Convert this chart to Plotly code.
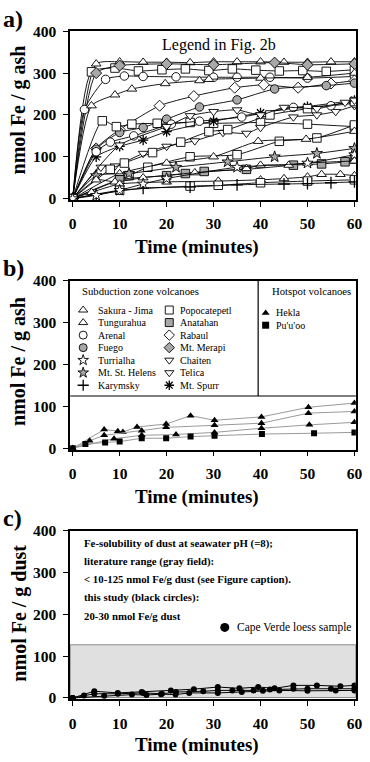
import plotly.graph_objects as go

W, H = 370, 762

# ---------------- data: panel a (minutes, nmol Fe / g ash) ----------------
sakura1_t = [0, 5, 10, 15, 20, 25, 30, 35, 40, 45, 50, 55, 60]
sakura1_v = [0, 322, 327, 326, 326, 325, 327, 327, 327, 326, 326, 327, 327]
popo1_t = [0, 4, 9, 14, 19, 24, 29, 34, 39, 44, 49, 54, 60]
popo1_v = [0, 303, 312, 305, 308, 310, 306, 310, 307, 305, 306, 304, 308]
merapi_t = [0, 5, 10, 20, 30, 43, 50, 60]
merapi_v = [0, 300, 318, 322, 320, 325, 320, 322]
arenal1_t = [0, 2.5, 7, 11, 15, 22, 30, 35, 42, 50, 60]
arenal1_v = [0, 213, 285, 293, 292, 291, 290, 290, 290, 288, 292]
tungu1_t = [0, 4, 9, 12.6, 19.7, 27, 29, 40, 50, 60]
tungu1_v = [0, 222, 248, 262, 275, 282, 285, 288, 290, 300]
rabaul_t = [0, 5, 10, 18.5, 25.8, 34.5, 40.7, 48, 55, 60]
rabaul_v = [0, 120, 165, 222, 245, 265, 272, 265, 275, 282]
fuego_t = [0, 5, 10, 15, 20, 27, 35, 43, 54, 60]
fuego_v = [0, 118, 158, 170, 190, 219, 236, 262, 270, 276]
popo2_t = [0, 6.3, 9.3, 12.6, 18, 25, 30, 40, 50, 60]
popo2_v = [0, 186, 172, 178, 180, 182, 180, 182, 178, 172]
chaiten_t = [0, 6, 9, 15, 20, 26, 32, 37, 40, 47, 52, 56, 60]
chaiten_v = [0, 75, 78, 108, 125, 138, 158, 156, 170, 195, 200, 208, 222]
arenal2_t = [0, 5, 8, 13, 21, 27, 36, 47, 55, 60]
arenal2_v = [0, 112, 135, 150, 178, 185, 195, 218, 222, 228]
popo3_t = [0, 8, 11, 17, 23, 29, 33, 42, 50, 60]
popo3_v = [0, 70, 85, 110, 135, 160, 165, 200, 215, 232]
telica_t = [0, 10, 20, 25, 30, 35, 40, 45, 52, 58, 60]
telica_v = [0, 128, 172, 198, 208, 212, 200, 218, 215, 230, 235]
popo4_t = [0, 12, 16, 25, 35, 44, 52, 60]
popo4_v = [0, 55, 75, 100, 105, 137, 145, 176]
tungu2_t = [0, 10, 20, 30, 39.5, 49.7, 60]
tungu2_v = [0, 60, 85, 100, 137, 142, 161]
helens_t = [0, 5, 12, 22, 33, 43, 52, 60]
helens_v = [0, 55, 60, 75, 88, 100, 108, 120]
anatahan_t = [0, 10, 20, 24, 28, 37, 47, 53, 58, 60]
anatahan_v = [0, 45, 55, 60, 65, 70, 80, 83, 88, 95]
sakura2_t = [0, 5, 9, 15, 26, 37, 40, 46, 50, 60]
sakura2_v = [0, 45, 40, 50, 62, 72, 80, 80, 85, 90]
tungu3_t = [0, 4, 10, 20, 31, 40, 45, 50, 53, 57, 60]
tungu3_v = [0, 15, 35, 40, 42, 45, 48, 52, 58, 58, 55]
popo5_t = [0, 10, 25, 31, 40, 50, 60]
popo5_v = [0, 20, 30, 32, 38, 42, 45]
karymsky_t = [0, 5, 15, 25, 35, 45, 50, 55, 60]
karymsky_v = [0, 10, 25, 28, 33, 35, 36, 38, 40]
turrialba_t = [0, 5, 10, 15, 20, 35, 50, 60]
turrialba_v = [0, 8, 20, 35, 48, 75, 85, 105]
spurr_t = [0, 5, 10, 15, 20, 30, 40, 50, 60]
spurr_v = [0, 100, 125, 140, 160, 185, 205, 220, 235]

# ---------------- data: panel b (hotspot volcanoes) ----------------
hekla1_t = [0, 6.7, 9.6, 10.7, 13.7, 19.9, 25.1, 30.2, 40.2, 50.2, 60]
hekla1_v = [0, 45, 41, 39, 51, 58, 78, 67, 75, 98, 108]
hekla2_t = [0, 3.6, 6.7, 14.7, 19.9, 30.2, 40.2, 50.2, 60]
hekla2_v = [0, 18, 31, 42, 50, 55, 60, 84, 88]
hekla3_t = [0, 8.8, 14.7, 22, 30.2, 40.2, 50.4, 60]
hekla3_v = [0, 23, 31, 33, 38, 48, 56, 62]
puuoo_t = [0, 2.7, 6.9, 10, 14.7, 19.9, 25.1, 30.2, 40.3, 51.4, 60]
puuoo_v = [0, 10, 14, 16, 24, 24, 28, 30, 34, 36, 38]

# ---------------- data: panel c (Cape Verde loess) ----------------
cv1_t = [0, 4.6, 9.6, 14.7, 20.9, 25.8, 30.9, 35.5, 39.5, 43, 47, 52, 57, 60]
cv1_v = [0, 16, 12, 14, 18, 21, 26, 23, 26, 23, 30, 30, 28, 30]
cv2_t = [0, 2.4, 4.6, 9.6, 15, 19, 22, 27.8, 30.9, 34, 38.5, 42, 47, 50, 55, 60]
cv2_v = [0, 6, 10, 10, 12, 10, 14, 16, 18, 18, 18, 20, 22, 22, 22, 22]
cv3_t = [0, 6.7, 12.6, 15.7, 18.8, 21.9, 24.8, 30.9, 36, 40.5, 44, 50, 56, 60]
cv3_v = [0, 5, 8, 7, 9, 8, 12, 12, 14, 17, 18, 17, 18, 18]

# legend labels
sub_col1 = ["Sakura - Jima", "Tungurahua", "Arenal", "Fuego", "Turrialha", "Mt. St. Helens", "Karymsky"]
sub_col2 = ["Popocatepetl", "Anatahan", "Rabaul", "Mt. Merapi", "Chaiten", "Telica", "Mt. Spurr"]
hot_names = ["Hekla", "Pu'u'oo"]

x_ticks = [0, 10, 20, 30, 40, 50, 60]
y_ticks = [0, 100, 200, 300, 400]

# ---------------- styles ----------------
GRAY = "#a8a8a8"
STYLE = {
    "Sakura - Jima": ("triangle-up", "white"),
    "Tungurahua": ("triangle-up", "white"),
    "Arenal": ("circle", "white"),
    "Fuego": ("circle", GRAY),
    "Turrialha": ("star", "white"),
    "Mt. St. Helens": ("star", GRAY),
    "Karymsky": ("cross-thin-open", "black"),
    "Popocatepetl": ("square", "white"),
    "Anatahan": ("square", GRAY),
    "Rabaul": ("diamond", "white"),
    "Mt. Merapi": ("diamond", GRAY),
    "Chaiten": ("triangle-down", "white"),
    "Telica": ("triangle-down", "white"),
    "Mt. Spurr": ("asterisk-open", "black"),
}

panel_a = [
    ("Sakura - Jima", sakura1_t, sakura1_v),
    ("Popocatepetl", popo1_t, popo1_v),
    ("Mt. Merapi", merapi_t, merapi_v),
    ("Arenal", arenal1_t, arenal1_v),
    ("Tungurahua", tungu1_t, tungu1_v),
    ("Rabaul", rabaul_t, rabaul_v),
    ("Fuego", fuego_t, fuego_v),
    ("Popocatepetl", popo2_t, popo2_v),
    ("Mt. Spurr", spurr_t, spurr_v),
    ("Chaiten", chaiten_t, chaiten_v),
    ("Arenal", arenal2_t, arenal2_v),
    ("Popocatepetl", popo3_t, popo3_v),
    ("Telica", telica_t, telica_v),
    ("Popocatepetl", popo4_t, popo4_v),
    ("Tungurahua", tungu2_t, tungu2_v),
    ("Mt. St. Helens", helens_t, helens_v),
    ("Anatahan", anatahan_t, anatahan_v),
    ("Sakura - Jima", sakura2_t, sakura2_v),
    ("Tungurahua", tungu3_t, tungu3_v),
    ("Popocatepetl", popo5_t, popo5_v),
    ("Karymsky", karymsky_t, karymsky_v),
    ("Turrialha", turrialba_t, turrialba_v),
]

SERIF = "Liberation Serif"
MSIZE = 8.5


def marker_for(name, size=MSIZE):
    sym, fill = STYLE[name]
    lw = 1.3 if sym.endswith("-open") else 0.9
    return dict(symbol=sym, size=size, color=fill,
                line=dict(color="black", width=lw))


def px_x(px):
    return px / W


def px_y(py):
    return 1 - py / H


fig = go.Figure()

for name, t, v in panel_a:
    fig.add_trace(go.Scatter(
        x=t, y=v, mode="lines+markers", xaxis="x", yaxis="y",
        line=dict(color="black", width=0.9, shape="spline", smoothing=0.6),
        marker=marker_for(name), name=name, showlegend=False,
    ))

for t, v, sym in [(hekla1_t, hekla1_v, "triangle-up"),
                  (hekla2_t, hekla2_v, "triangle-up"),
                  (hekla3_t, hekla3_v, "triangle-up"),
                  (puuoo_t, puuoo_v, "square")]:
    fig.add_trace(go.Scatter(
        x=t, y=v, mode="lines+markers", xaxis="x2", yaxis="y2",
        line=dict(color="#9a9a9a", width=1),
        marker=dict(symbol=sym, size=7 if sym == "triangle-up" else 6, color="black"),
        showlegend=False,
    ))

for t, v in [(cv1_t, cv1_v), (cv2_t, cv2_v), (cv3_t, cv3_v)]:
    fig.add_trace(go.Scatter(
        x=t, y=v, mode="lines+markers", xaxis="x3", yaxis="y3",
        line=dict(color="black", width=1),
        marker=dict(symbol="circle", size=6, color="black"),
        showlegend=False,
    ))

# ---------- legend keys (drawn on a hidden page-sized axis in pixel units) ----------
col_x = [84, 172]
row_y0, row_dy = 307.5, 12.8
for ci, col in enumerate([sub_col1, sub_col2]):
    for ri, name in enumerate(col):
        fig.add_trace(go.Scatter(
            x=[col_x[ci]], y=[row_y0 + ri * row_dy], mode="markers",
            xaxis="x4", yaxis="y4", marker=marker_for(name, 8),
            showlegend=False, hoverinfo="skip"))
for ri, sym in enumerate(["triangle-up", "square"]):
    fig.add_trace(go.Scatter(
        x=[270.5], y=[310.5 + ri * 12.5], mode="markers", xaxis="x4", yaxis="y4",
        marker=dict(symbol=sym, size=7, color="black"),
        showlegend=False, hoverinfo="skip"))
fig.add_trace(go.Scatter(
    x=[228.7], y=[631.7], mode="markers", xaxis="x4", yaxis="y4",
    marker=dict(symbol="circle", size=9, color="black"),
    showlegend=False, hoverinfo="skip"))

# ---------- axes ----------
X_DOM = [px_x(70.7), px_x(362.7)]
Y_DOMS = [[px_y(195), px_y(22.7)], [px_y(450), px_y(277.7)], [px_y(705), px_y(532.7)]]
tickfont = dict(family=SERIF, size=15.5, color="black", weight="bold")
axis_common = dict(showline=True, linecolor="black", linewidth=1.6, mirror=True,
                   ticks="outside", ticklen=5, tickwidth=1.3, tickcolor="black",
                   showgrid=False, zeroline=False, tickfont=tickfont, fixedrange=True)

layout = dict(
    width=W, height=H, margin=dict(l=0, r=0, t=0, b=0),
    paper_bgcolor="white", plot_bgcolor="rgba(0,0,0,0)",
    showlegend=False,
)
for i in range(3):
    sx = "" if i == 0 else str(i + 1)
    layout["xaxis" + sx] = dict(axis_common, domain=X_DOM, range=[-0.54, 60.3],
                                tickvals=x_ticks, anchor="y" + sx, ticklabelstandoff=4)
    layout["yaxis" + sx] = dict(axis_common, domain=Y_DOMS[i], range=[-3, 400],
                                tickvals=y_ticks, anchor="x" + sx, ticklabelstandoff=4)
layout["xaxis4"] = dict(domain=[0, 1], range=[0, W], visible=False, anchor="y4", fixedrange=True)
layout["yaxis4"] = dict(domain=[0, 1], range=[H, 0], visible=False, anchor="x4", fixedrange=True)
fig.update_layout(**layout)

# ---------- shapes ----------
fig.add_shape(type="rect", xref="x3 domain", yref="y3", x0=0, x1=1, y0=1, y1=127,
              fillcolor="#e0e0e0", line=dict(color="#8c8c8c", width=1), layer="below")
fig.add_shape(type="line", xref="x2 domain", yref="y2", x0=0, x1=1, y0=125, y1=125,
              line=dict(color="black", width=1.2))
fig.add_shape(type="line", xref="x2 domain", yref="y2", x0=0.658, x1=0.658, y0=125, y1=400,
              line=dict(color="black", width=1.2))


# ---------- annotations ----------
def ann(text, x, y, size, bold=False, xanchor="left", yanchor="middle", angle=0):
    fig.add_annotation(text=text, x=px_x(x), y=px_y(y), xref="paper", yref="paper",
                       showarrow=False, xanchor=xanchor, yanchor=yanchor, textangle=angle,
                       font=dict(family=SERIF, size=size, color="black",
                                 weight="bold" if bold else "normal"))


for lab, y0 in [("a)", 10), ("b)", 265), ("c)", 520)]:
    ann(lab, 0, y0, 24, bold=True)
for y0, title in [(103, "nmol Fe / g ash"), (360, "nmol Fe / g ash"), (617, "nmol Fe / g dust")]:
    ann(title, 18, y0, 20, bold=True, xanchor="center", angle=-90)
for y0 in [243, 498, 752]:
    ann("Time (minutes)", 200, y0, 19, bold=True, xanchor="center")

ann("Legend in Fig. 2b", 222.5, 36.5, 16, xanchor="center")

ann("Subduction zone volcanoes", 81, 288.5, 10.7)
ann("Hotspot volcanoes", 275, 288.5, 10.7)
for ci, col in enumerate([sub_col1, sub_col2]):
    tx = [96.7, 181][ci]
    for ri, name in enumerate(col):
        ann(name, tx, row_y0 + ri * row_dy, 10)
for ri, name in enumerate(hot_names):
    ann(name, 279.5, 310.5 + ri * 12.5, 10)

c_lines = ["Fe-solubility of dust at seawater pH (=8);",
           "literature range (gray field):",
           "< 10-125 nmol Fe/g dust (see Figure caption).",
           "this study (black circles):",
           "20-30 nmol Fe/g dust"]
for i, line in enumerate(c_lines):
    ann(line, 82.7, 546 + i * 18.5, 10.8, bold=True)
ann("Cape Verde loess sample", 239.3, 631.7, 11.5)

fig.write_html("out.html", config={"displayModeBar": False},
               post_script="document.body.style.margin='0';document.body.style.overflow='hidden';")
